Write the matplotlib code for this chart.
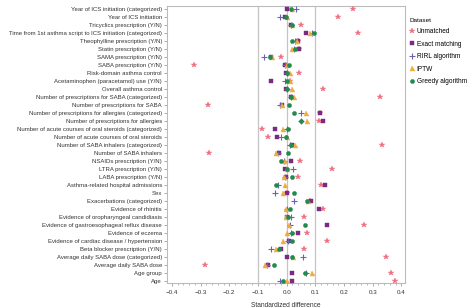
import matplotlib
matplotlib.use('Agg')
import matplotlib.pyplot as plt
from matplotlib.ticker import MultipleLocator

plt.rcParams['font.family'] = ['Liberation Sans', 'DejaVu Sans']

# Covariates, top to bottom as shown in the chart
covariates = [
    'Year of ICS initiation (categorized)',
    'Year of ICS initiation',
    'Tricyclics prescription (Y/N)',
    'Time from 1st asthma script to ICS initiation (categorized)',
    'Theophylline prescription (Y/N)',
    'Statin prescription (Y/N)',
    'SAMA prescription (Y/N)',
    'SABA prescription (Y/N)',
    'Risk-domain asthma control',
    'Acetaminophen (paracetamol) use (Y/N)',
    'Overall asthma control',
    'Number of prescriptions for SABA (categorized)',
    'Number of prescriptions for SABA',
    'Number of prescriptions for allergies (categorized)',
    'Number of prescriptions for allergies',
    'Number of acute courses of oral steroids (categorized)',
    'Number of acute courses of oral steroids',
    'Number of SABA inhalers (categorized)',
    'Number of SABA inhalers',
    'NSAIDs prescription (Y/N)',
    'LTRA prescription (Y/N)',
    'LABA prescription (Y/N)',
    'Asthma-related hospital admissions',
    'Sex',
    'Exacerbations (categorized)',
    'Evidence of rhinitis',
    'Evidence of oropharyngeal candidiasis',
    'Evidence of gastroesophageal reflux disease',
    'Evidence of eczema',
    'Evidence of cardiac disease / hypertension',
    'Beta blocker prescription (Y/N)',
    'Average daily SABA dose (categorized)',
    'Average daily SABA dose',
    'Age group',
    'Age',
]

unmatched = [0.23, 0.18, 0.049, 0.25, 0.038, 0.042, -0.02, -0.322, 0.044, 0.01,
             0.128, 0.326, -0.273, 0.115, 0.114, -0.085, -0.066, 0.331, -0.271, 0.046,
             0.159, 0.038, 0.12, 0.0, 0.082, 0.127, 0.061, 0.268, 0.07, 0.141,
             0.06, 0.345, -0.286, 0.364, 0.376]
exact = [0.0, -0.005, 0.014, 0.066, 0.038, 0.044, -0.056, -0.004, -0.002, -0.055,
         -0.002, 0.015, -0.016, 0.116, 0.128, -0.041, -0.033, 0.017, -0.028, 0.014,
         -0.004, -0.002, 0.133, 0.0, 0.085, 0.114, 0.0, 0.141, 0.038, 0.009,
         -0.02, 0.0, -0.065, 0.017, 0.02]
rirl = [0.032, -0.023, 0.016, 0.088, 0.03, 0.025, -0.079, -0.006, 0.0, -0.004,
        0.0, 0.015, -0.023, 0.051, 0.05, 0.0, -0.02, 0.012, -0.03, -0.01,
        0.023, -0.005, -0.029, -0.04, 0.027, 0.0, 0.014, 0.012, 0.015, 0.005,
        -0.055, 0.056, -0.07, 0.069, -0.022]
iptw = [0.017, 0.0, 0.02, 0.081, 0.036, 0.018, -0.05, 0.002, 0.013, 0.012,
        0.02, 0.026, -0.016, 0.066, 0.072, -0.012, 0.0, 0.028, -0.037, -0.007,
        0.002, -0.01, -0.004, -0.014, 0.075, -0.003, -0.002, 0.008, 0.001, -0.012,
        -0.037, 0.023, -0.076, 0.089, 0.002]
greedy = [0.015, -0.002, 0.018, 0.096, 0.02, 0.028, -0.058, 0.008, 0.0, 0.0,
          0.0, 0.015, 0.008, 0.025, 0.05, 0.006, -0.003, 0.014, 0.003, -0.019,
          0.0, 0.02, -0.036, 0.025, 0.07, 0.012, 0.003, 0.064, 0.019, 0.017,
          -0.028, 0.017, -0.043, 0.064, -0.012]

series = [
    ('Unmatched', unmatched, '*', '#EE6F7F', 4.2),
    ('Exact matching', exact, 's', '#7A2A80', 3.4),
    ('RIRL algorithm', rirl, '+', '#6A62B2', 4.0),
    ('IPTW', iptw, '^', '#F2AA3A', 3.6),
    ('Greedy algorithm', greedy, 'o', '#22894F', 3.0),
]

n = len(covariates)
ypos = [n - 1 - i for i in range(n)]

fig = plt.figure(figsize=(4.73, 3.08), dpi=100)
ax = fig.add_axes([0.353, 0.0812, 0.503, 0.8993])

for x in (-0.1, 0.0, 0.1):
    ax.axvline(x, color='#C4C4C4', lw=0.9, zorder=0)

for name, vals, mk, col, ms in series:
    ax.plot(vals, ypos, linestyle='none', marker=mk, color=col, markersize=ms,
            markeredgewidth=0.8 if mk == '+' else 0.3, label=name, zorder=3)

ax.set_xlim(-0.417, 0.412)
ax.set_ylim(-0.3, n - 1 + 0.4)
ax.set_yticks(ypos)
ax.set_yticklabels(covariates, fontsize=4.35, color='#333333')
ax.xaxis.set_major_locator(MultipleLocator(0.1))
ax.xaxis.set_minor_locator(MultipleLocator(0.02))
ax.set_xticks([-0.4, -0.3, -0.2, -0.1, 0.0, 0.1, 0.2, 0.3, 0.4])
ax.set_xticklabels(['\u22120.4', '\u22120.3', '\u22120.2', '\u22120.1', '0.0',
                    '0.1', '0.2', '0.3', '0.4'], fontsize=4.5, color='#333333')
ax.tick_params(axis='both', which='major', length=2, width=0.5, color='#888888', pad=1.5)
ax.tick_params(axis='x', which='major', pad=3)
ax.tick_params(axis='x', which='minor', length=1.5, width=0.4, color='#888888')
ax.set_xlabel('Standardized difference', fontsize=4.8, color='#333333', labelpad=5)

for s in ax.spines.values():
    s.set_color('#BBBBBB')
    s.set_linewidth(0.8)

leg = ax.legend(title='Dataset', loc='upper left', bbox_to_anchor=(1.0, 0.975),
                frameon=False, fontsize=4.7, title_fontsize=4.6,
                handlelength=0.8, handletextpad=0.3, labelspacing=0.85,
                borderaxespad=0.3)
leg._legend_box.align = 'left'

fig.savefig('out.png', dpi=100)
